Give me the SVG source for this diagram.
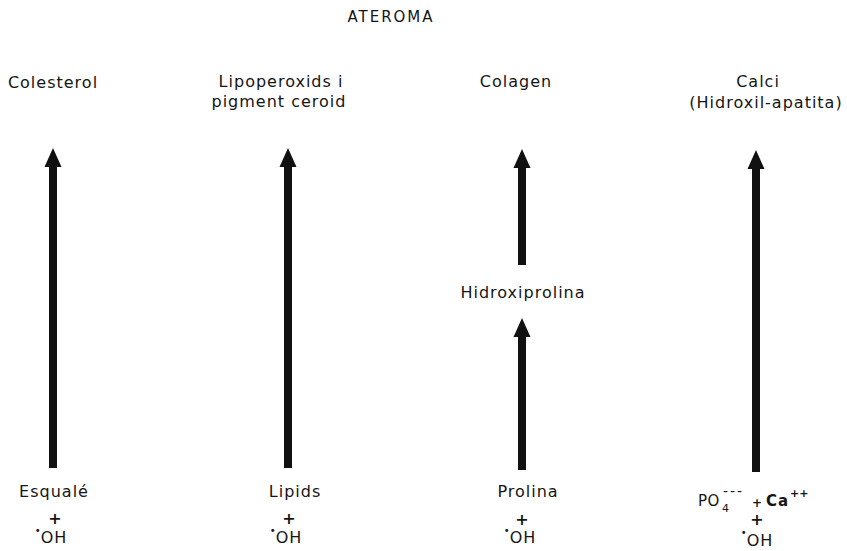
<svg xmlns="http://www.w3.org/2000/svg" width="847" height="551" viewBox="0 0 847 551">
<style>
.t{font-family:"DejaVu Sans","Liberation Sans",sans-serif;font-size:16px;fill:#151515;letter-spacing:1px;text-anchor:middle}
.l{text-anchor:start}
.p{font-family:"DejaVu Sans","Liberation Sans",sans-serif;font-size:16px;font-weight:bold;fill:#151515;text-anchor:middle}
.d{font-size:10px;letter-spacing:0}
.s{font-family:"DejaVu Sans","Liberation Sans",sans-serif;font-size:11px;fill:#151515;text-anchor:start}
.a{stroke:#111;stroke-width:8;fill:none}
</style>
<defs>
<marker id="ah" markerUnits="userSpaceOnUse" markerWidth="20" markerHeight="18" refX="0" refY="8.5" orient="auto" overflow="visible">
<path d="M0,0 L19,8.5 L0,17 z" fill="#111"/>
</marker>
</defs>
<rect width="847" height="551" fill="#fff"/>
<g id="title"><text class="t" x="391" y="22" style="font-size:15px;letter-spacing:2px">ATEROMA</text></g>
<g id="colesterol"><text class="t" x="53" y="88">Colesterol</text></g>
<g id="lipoperoxids"><text class="t" x="281" y="87">Lipoperoxids i</text><text class="t" x="279" y="107">pigment ceroid</text></g>
<g id="colagen"><text class="t" x="516" y="87">Colagen</text></g>
<g id="calci"><text class="t" x="758" y="87">Calci</text><text class="t" x="766" y="108">(Hidroxil-apatita)</text></g>
<g id="hidroxiprolina"><text class="t" x="523" y="298">Hidroxiprolina</text></g>
<g id="esquale"><text class="t" x="54" y="497">Esqualé</text><text class="p" x="55" y="524">+</text><text class="t" x="51" y="543"><tspan class="d" dy="-9">•</tspan><tspan dy="9">OH</tspan></text></g>
<g id="lipids"><text class="t" x="295" y="497">Lipids</text><text class="p" x="289" y="524">+</text><text class="t" x="286" y="543"><tspan class="d" dy="-9">•</tspan><tspan dy="9">OH</tspan></text></g>
<g id="prolina"><text class="t" x="528" y="497">Prolina</text><text class="p" x="522" y="525">+</text><text class="t" x="520" y="543"><tspan class="d" dy="-9">•</tspan><tspan dy="9">OH</tspan></text></g>
<g id="po4ca">
<text class="t l" x="698" y="506" style="font-size:15px;letter-spacing:0.5px">PO</text>
<text class="s" x="722" y="512">4</text>
<text class="s" x="723" y="496" style="font-size:14px;letter-spacing:2px">---</text>
<text class="s" x="752" y="507" style="font-weight:bold;font-size:12px">+</text>
<text class="t l" x="766" y="506" style="font-weight:bold;font-size:15px">Ca</text>
<text class="s" x="790" y="497" style="font-weight:bold">++</text>
<text class="p" x="757" y="525">+</text>
<text class="t" x="757" y="546"><tspan class="d" dy="-10">•</tspan><tspan dy="10">OH</tspan></text>
</g>
<g id="connectors">
<line class="a" x1="53" y1="468" x2="53" y2="167" marker-end="url(#ah)"/>
<line class="a" x1="288" y1="468" x2="288" y2="167" marker-end="url(#ah)"/>
<line class="a" x1="522" y1="265" x2="522" y2="168" marker-end="url(#ah)"/>
<line class="a" x1="522" y1="470" x2="522" y2="337" marker-end="url(#ah)"/>
<line class="a" x1="756" y1="472" x2="756" y2="169" marker-end="url(#ah)"/>
</g>
</svg>
